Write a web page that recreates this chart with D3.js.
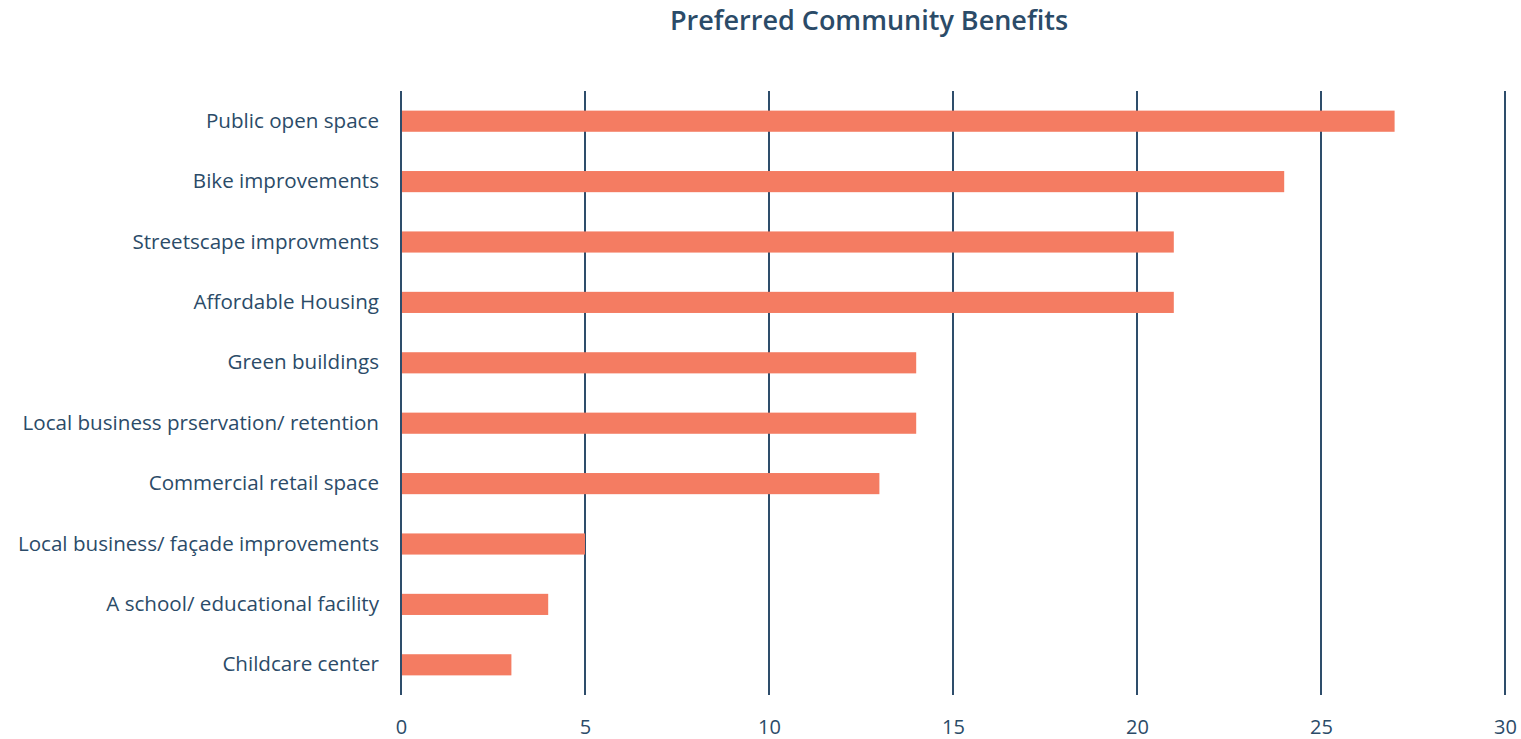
<!DOCTYPE html>
<html>
<head>
<meta charset="utf-8">
<script src="https://cdn.jsdelivr.net/npm/d3@7"></script>
<style>
  body { margin: 0; background: #fff; }
  text { font-family: "Open Sans", "Noto Sans", sans-serif; fill: #2b4b68; }
</style>
</head>
<body>
<svg id="chart"></svg>
<script>
// survey counts, top to bottom
var categories = [
  "Public open space",
  "Bike improvements",
  "Streetscape improvments",
  "Affordable Housing",
  "Green buildings",
  "Local business prservation/ retention",
  "Commercial retail space",
  "Local business/ façade improvements",
  "A school/ educational facility",
  "Childcare center"
];
var counts = [27, 24, 21, 21, 14, 14, 13, 5, 4, 3];
var tickValues = [0, 5, 10, 15, 20, 25, 30];

var W = 1521, H = 739;
var margin = {top: 91, right: 16, bottom: 44, left: 401};
var width = W - margin.left - margin.right,
    height = H - margin.top - margin.bottom;

var svg = d3.select("#chart")
    .attr("width", W)
    .attr("height", H);

svg.append("text")
    .attr("x", 869)
    .attr("y", 30)
    .attr("text-anchor", "middle")
    .style("font-size", "27px")
    .style("font-weight", 600)
    .text("Preferred Community Benefits");

var chart = svg.append("g")
    .attr("transform", "translate(" + margin.left + "," + margin.top + ")");

var x = d3.scaleLinear()
    .domain([0, 30])
    .range([0, 1104]);

var y = d3.scaleBand()
    .domain(categories)
    .range([0, height])
    .paddingInner(0.65)
    .paddingOuter(0.325);

// vertical grid lines
chart.selectAll(".grid")
    .data(tickValues)
  .enter().append("line")
    .attr("class", "grid")
    .attr("x1", function(d) { return x(d); })
    .attr("x2", function(d) { return x(d); })
    .attr("y1", 0)
    .attr("y2", height)
    .attr("stroke", "#2e4d6b")
    .attr("stroke-width", 2);

chart.selectAll(".bar")
    .data(counts)
  .enter().append("rect")
    .attr("class", "bar")
    .attr("x", x(0))
    .attr("y", function(d, i) { return y(categories[i]); })
    .attr("width", function(d) { return x(d) - x(0); })
    .attr("height", y.bandwidth())
    .attr("fill", "#f47c62");

// axis at zero drawn on top
chart.append("line")
    .attr("x1", x(0)).attr("x2", x(0))
    .attr("y1", 0).attr("y2", height)
    .attr("stroke", "#2e4d6b")
    .attr("stroke-width", 2);

var xAxis = d3.axisBottom(x)
    .tickValues(tickValues)
    .tickSize(0)
    .tickPadding(25);

chart.append("g")
    .attr("class", "x axis")
    .attr("transform", "translate(0," + height + ")")
    .call(xAxis)
    .call(function(g) { g.select(".domain").remove(); })
    .selectAll("text")
    .style("font-size", "20px")
    .attr("fill", "#2b4b68");

var yAxis = d3.axisLeft(y)
    .tickSize(0)
    .tickPadding(22);

chart.append("g")
    .attr("class", "y axis")
    .call(yAxis)
    .call(function(g) { g.select(".domain").remove(); })
    .selectAll("text")
    .style("font-size", "20.6px")
    .attr("fill", "#2b4b68");
</script>
</body>
</html>
